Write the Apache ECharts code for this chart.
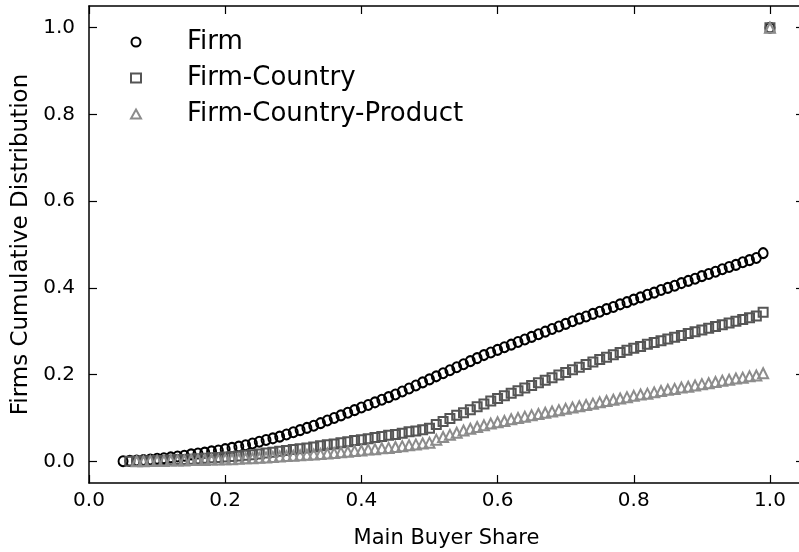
<!DOCTYPE html>
<html>
<head>
<meta charset="utf-8">
<script src="https://cdn.jsdelivr.net/npm/echarts@6/dist/echarts.min.js"></script>
<style>html,body{margin:0;padding:0;background:#fff;}#c{width:799px;height:552px;}</style>
</head>
<body>
<div id="c"></div>
<script>
// Main buyer share (x) values
const shareX = [0.05,0.06,0.07,0.08,0.09,0.10,0.11,0.12,0.13,0.14,0.15,0.16,0.17,0.18,0.19,0.20,0.21,0.22,0.23,0.24,0.25,0.26,0.27,0.28,0.29,0.30,0.31,0.32,0.33,0.34,0.35,0.36,0.37,0.38,0.39,0.40,0.41,0.42,0.43,0.44,0.45,0.46,0.47,0.48,0.49,0.50,0.51,0.52,0.53,0.54,0.55,0.56,0.57,0.58,0.59,0.60,0.61,0.62,0.63,0.64,0.65,0.66,0.67,0.68,0.69,0.70,0.71,0.72,0.73,0.74,0.75,0.76,0.77,0.78,0.79,0.80,0.81,0.82,0.83,0.84,0.85,0.86,0.87,0.88,0.89,0.90,0.91,0.92,0.93,0.94,0.95,0.96,0.97,0.98,0.99,1.00];
// Firm
const firmY = [0.000,0.001,0.002,0.003,0.004,0.006,0.007,0.009,0.011,0.013,0.016,0.018,0.020,0.023,0.025,0.028,0.031,0.034,0.037,0.041,0.045,0.049,0.053,0.057,0.062,0.067,0.072,0.077,0.082,0.088,0.094,0.100,0.106,0.112,0.118,0.124,0.130,0.136,0.142,0.148,0.154,0.161,0.168,0.175,0.182,0.189,0.196,0.203,0.210,0.217,0.224,0.231,0.238,0.245,0.251,0.257,0.263,0.269,0.275,0.281,0.287,0.293,0.299,0.305,0.311,0.317,0.323,0.329,0.334,0.340,0.345,0.351,0.356,0.362,0.367,0.373,0.378,0.384,0.389,0.395,0.400,0.405,0.411,0.416,0.421,0.427,0.432,0.437,0.443,0.448,0.453,0.459,0.464,0.469,0.480,1.000];
// Firm-Country (starts at 0.06)
const countryY = [null,0.000,0.000,0.001,0.001,0.002,0.002,0.003,0.004,0.004,0.005,0.006,0.007,0.008,0.009,0.010,0.011,0.012,0.014,0.015,0.017,0.019,0.021,0.023,0.025,0.027,0.029,0.031,0.033,0.036,0.038,0.040,0.043,0.045,0.048,0.050,0.052,0.055,0.057,0.060,0.062,0.065,0.068,0.070,0.073,0.076,0.085,0.092,0.099,0.106,0.112,0.119,0.126,0.132,0.139,0.145,0.151,0.157,0.163,0.169,0.175,0.181,0.187,0.193,0.199,0.205,0.211,0.217,0.223,0.229,0.235,0.240,0.246,0.251,0.256,0.261,0.265,0.270,0.274,0.278,0.282,0.286,0.290,0.295,0.299,0.303,0.307,0.311,0.315,0.319,0.323,0.327,0.331,0.335,0.344,1.000];
// Firm-Country-Product (starts at 0.07)
const productY = [null,null,0.000,0.000,0.001,0.001,0.001,0.002,0.002,0.002,0.003,0.003,0.003,0.004,0.004,0.005,0.005,0.006,0.007,0.007,0.008,0.009,0.010,0.011,0.012,0.013,0.014,0.015,0.016,0.017,0.018,0.019,0.021,0.022,0.024,0.025,0.027,0.028,0.030,0.031,0.033,0.035,0.037,0.039,0.041,0.043,0.050,0.056,0.061,0.066,0.071,0.075,0.079,0.083,0.087,0.090,0.093,0.097,0.100,0.103,0.106,0.109,0.112,0.115,0.118,0.121,0.124,0.127,0.130,0.133,0.136,0.139,0.142,0.145,0.148,0.151,0.154,0.156,0.159,0.162,0.165,0.167,0.170,0.172,0.175,0.178,0.180,0.183,0.186,0.188,0.191,0.193,0.196,0.198,0.203,1.000];
const seriesNames = ['Firm','Firm-Country','Firm-Country-Product'];
const xTicks = [0.0,0.2,0.4,0.6,0.8,1.0];
const yTicks = [0.0,0.2,0.4,0.6,0.8,1.0];

const pairs = ys => shareX.map((x,i)=>ys[i]==null?null:[x,ys[i]]).filter(p=>p);
const FONT = 'DejaVu Sans';
const chart = echarts.init(document.getElementById('c'));
const tickCommon = {show:true,inside:true,length:8,lineStyle:{color:'#000',width:1.2}};
const axisLine = {show:true,onZero:false,lineStyle:{color:'#000',width:1.5}};
const fmt = v => Number(v).toFixed(1);
const styles = [
  {symbol:'circle', size:[9,10], color:'#000000'},
  {symbol:'rect', size:9, color:'#555555'},
  {symbol:'triangle', size:10, color:'#8c8c8c'}
];
const data = [firmY,countryY,productY];
chart.setOption({
  animation:false,
  backgroundColor:'#fff',
  grid:{left:89,top:6,width:715,height:477,outerBoundsMode:'none',containLabel:false},
  legend:{
    orient:'vertical',left:125,top:23,itemWidth:10,itemHeight:9,itemGap:8,
    data:seriesNames,
    textStyle:{fontFamily:FONT,fontSize:26,color:'#000',lineHeight:28,padding:[0,0,0,41]}
  },
  xAxis:[
    {type:'value',min:0,max:1.05,position:'bottom',
     name:'Main Buyer Share',nameLocation:'middle',nameGap:45,
     nameTextStyle:{fontFamily:FONT,fontSize:21,color:'#000'},
     axisLine:axisLine,
     axisTick:Object.assign({customValues:xTicks},tickCommon),
     axisLabel:{customValues:xTicks,formatter:fmt,fontFamily:FONT,fontSize:20,color:'#000',margin:8},
     splitLine:{show:false}},
    {type:'value',min:0,max:1.05,position:'top',
     axisLine:axisLine,
     axisTick:Object.assign({customValues:xTicks},tickCommon),
     axisLabel:{show:false},splitLine:{show:false}}
  ],
  yAxis:[
    {type:'value',min:-0.05,max:1.05,position:'left',
     name:'Firms Cumulative Distribution',nameLocation:'middle',nameGap:55,
     nameTextStyle:{fontFamily:FONT,fontSize:23,color:'#000'},
     axisLine:axisLine,
     axisTick:Object.assign({customValues:yTicks},tickCommon),
     axisLabel:{customValues:yTicks,formatter:fmt,fontFamily:FONT,fontSize:20,color:'#000',margin:14},
     splitLine:{show:false}},
    {type:'value',min:-0.05,max:1.05,position:'right',
     axisLine:axisLine,
     axisTick:Object.assign({customValues:yTicks},tickCommon),
     axisLabel:{show:false},splitLine:{show:false}}
  ],
  series: seriesNames.map((n,i)=>({
    name:n,type:'scatter',xAxisIndex:0,yAxisIndex:0,
    symbol:styles[i].symbol,symbolSize:styles[i].size,
    itemStyle:{color:'rgba(0,0,0,0)',borderColor:styles[i].color,borderWidth:2,opacity:1},
    emphasis:{disabled:true},
    data:pairs(data[i])
  }))
});
</script>
</body>
</html>
